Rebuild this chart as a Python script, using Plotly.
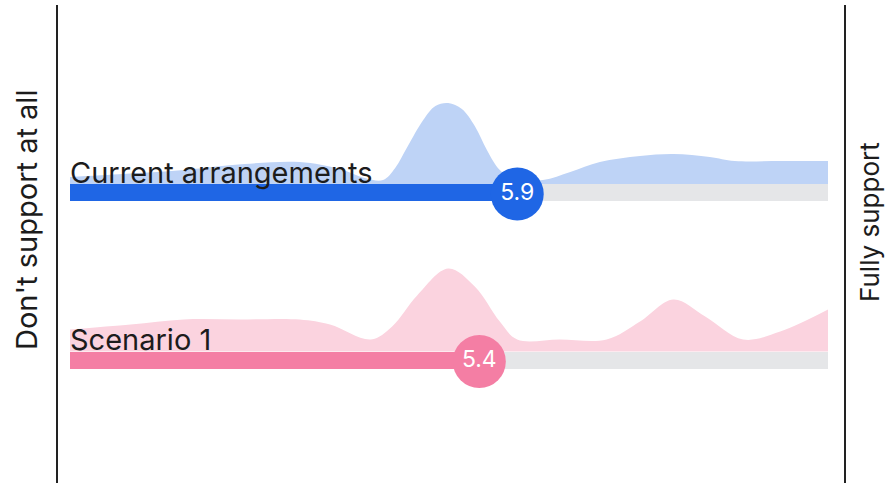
import plotly.graph_objects as go

# Survey rows: label, mean score (0-10), colours
rows = ["Current arrangements", "Scenario 1"]
means = [5.9, 5.4]
bar_colors = ["#1f66e5", "#f47ea4"]
area_colors = ["#bed3f6", "#fbd3df"]
track_color = "#e5e6e8"
scale_min, scale_max = 0, 10

# Response distribution along the 0-10 scale (score, relative density)
dist_x = [
    [0.0, 0.7, 1.5, 2.3, 3.03, 3.56, 3.89, 4.13, 4.29, 4.45, 4.66, 4.82, 4.99, 5.17, 5.34, 5.5, 5.67, 5.87, 6.24, 6.6, 6.99, 7.52, 7.96, 8.44, 8.77, 9.4, 10.0],
    [0.0, 0.8, 1.5, 2.245, 3.03, 3.43, 3.97, 4.25, 4.58, 4.99, 5.34, 5.67, 5.9, 6.46, 7.08, 7.52, 7.96, 8.38, 8.88, 9.37, 10.0],
]
dist_y = [
    [7, 10, 14, 20, 22, 15, 6, 4, 16, 37, 64, 78, 81, 75, 58, 34, 14, 5, 4, 12, 22, 28, 30, 27, 23, 23, 23],
    [22, 27, 32, 32, 32, 27, 12, 25, 56, 83, 65, 30, 12, 12, 12, 30, 52, 35, 12, 20, 42],
]
axis_labels = ["Don't support at all", "Fully support"]

# Layout in pixels (y axis runs top-down in screen pixels)
W, H = 887, 483
row_center = [192.5, 360]
bar_h = 17
px_per_unit = 75.8
left_px = 70
x0 = scale_min - left_px / px_per_unit
x1 = x0 + W / px_per_unit
FONT = "Inter"

fig = go.Figure()

for i, name in enumerate(rows):
    top = row_center[i] - bar_h / 2
    # baseline for the distribution area
    fig.add_trace(go.Scatter(x=[dist_x[i][0], dist_x[i][-1]], y=[top, top], mode="lines",
                             line=dict(width=0, color="rgba(0,0,0,0)"), hoverinfo="skip",
                             showlegend=False))
    fig.add_trace(go.Scatter(x=dist_x[i], y=[top - v for v in dist_y[i]], mode="lines",
                             line=dict(width=0, shape="spline", smoothing=1.0, color=area_colors[i]),
                             fill="tonexty", fillcolor=area_colors[i], hoverinfo="skip",
                             showlegend=False))
    # row label over the distribution, under the bar
    fig.add_trace(go.Scatter(x=[scale_min], y=[top + 6], mode="text", text=[name],
                             textposition="top right",
                             textfont=dict(family=FONT, size=29, color="#1c1c1c"),
                             showlegend=False, hoverinfo="skip"))
    # grey track over the full scale
    fig.add_trace(go.Bar(x=[scale_max - scale_min], base=[scale_min], y=[row_center[i]],
                         orientation="h", width=bar_h, marker=dict(color=track_color, line=dict(width=0)),
                         showlegend=False, hoverinfo="skip"))
    # filled bar up to the mean
    fig.add_trace(go.Bar(x=[means[i] - scale_min], base=[scale_min], y=[row_center[i]],
                         orientation="h", width=bar_h, marker=dict(color=bar_colors[i], line=dict(width=0)),
                         showlegend=False, hoverinfo="skip"))
    # mean marker with value
    fig.add_trace(go.Scatter(x=[means[i]], y=[row_center[i] + 1.5], mode="markers+text",
                             marker=dict(size=53, color=bar_colors[i], line=dict(width=0)),
                             text=[f"{means[i]:.1f}"], textposition="middle center",
                             textfont=dict(family=FONT, size=23, color="white"),
                             showlegend=False, hoverinfo="skip"))

# Scale end lines
for xp in [57, 845]:
    fig.add_shape(type="line", xref="paper", yref="y", x0=xp / W, x1=xp / W, y0=5, y1=H,
                  line=dict(color="#222222", width=2))

fig.add_annotation(x=26 / W, y=220, xref="paper", yref="y", text=axis_labels[0], textangle=-90,
                   xanchor="center", yanchor="middle",
                   showarrow=False, font=dict(family=FONT, size=29, color="#1c1c1c"))
fig.add_annotation(x=869 / W, y=222, xref="paper", yref="y", text=axis_labels[1], textangle=-90,
                   xanchor="center", yanchor="middle",
                   showarrow=False, font=dict(family=FONT, size=26, color="#1c1c1c"))

fig.update_layout(
    width=W, height=H, margin=dict(l=0, r=0, t=0, b=0),
    paper_bgcolor="white", plot_bgcolor="white", barmode="overlay", bargap=0,
    xaxis=dict(range=[x0, x1], visible=False, fixedrange=True),
    yaxis=dict(range=[H, 0], visible=False, fixedrange=True),
)

fig.write_html("out.html")
